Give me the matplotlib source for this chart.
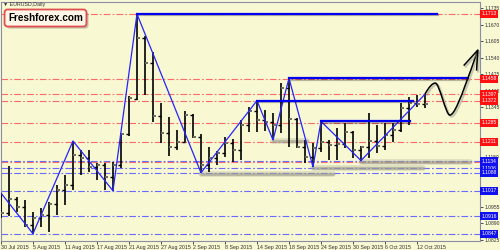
import matplotlib
matplotlib.use("Agg")
import matplotlib.pyplot as plt
import matplotlib.patheffects as pe
import matplotlib.transforms as mtransforms
from matplotlib.path import Path
from matplotlib.patches import PathPatch

plt.rcParams['font.family'] = ['Liberation Sans', 'DejaVu Sans']

# EURUSD Daily, 30 Jul - 13 Oct 2015
opens = [1.0996, 1.0929, 1.0985, 1.0953, 1.0882, 1.0910, 1.0922, 1.0965, 1.1020, 1.1040,
         1.1158, 1.1146, 1.1111, 1.1118, 1.1071, 1.1118, 1.1241, 1.1378, 1.1619, 1.1520,
         1.1311, 1.1244, 1.1189, 1.1209, 1.1315, 1.1229, 1.1118, 1.1146, 1.1166, 1.1205,
         1.1178, 1.1276, 1.1331, 1.1296, 1.1288, 1.1276, 1.1422, 1.1300, 1.1189, 1.1150,
         1.1185, 1.1209, 1.1197, 1.1200, 1.1248, 1.1178, 1.1189, 1.1213, 1.1193, 1.1237,
         1.1256, 1.1343, 1.1363, 1.1359]
highs = [1.1008, 1.1115, 1.0992, 1.0981, 1.0933, 1.0949, 1.0973, 1.1040, 1.1079, 1.1213,
         1.1178, 1.1178, 1.1126, 1.1126, 1.1130, 1.1244, 1.1390, 1.1713, 1.1626, 1.1563,
         1.1363, 1.1307, 1.1256, 1.1331, 1.1319, 1.1241, 1.1189, 1.1174, 1.1229, 1.1221,
         1.1296, 1.1347, 1.1372, 1.1335, 1.1323, 1.1441, 1.1460, 1.1305, 1.1217, 1.1205,
         1.1290, 1.1215, 1.1264, 1.1284, 1.1252, 1.1193, 1.1323, 1.1276, 1.1284, 1.1284,
         1.1363, 1.1386, 1.1394, 1.1397]
lows = [1.0910, 1.0918, 1.0933, 1.0874, 1.0848, 1.0874, 1.0855, 1.0922, 1.0961, 1.1020,
        1.1079, 1.1091, 1.1060, 1.1020, 1.1017, 1.1107, 1.1233, 1.1374, 1.1394, 1.1288,
        1.1205, 1.1154, 1.1178, 1.1209, 1.1225, 1.1088, 1.1091, 1.1118, 1.1150, 1.1130,
        1.1138, 1.1248, 1.1248, 1.1252, 1.1217, 1.1244, 1.1189, 1.1185, 1.1126, 1.1111,
        1.1170, 1.1138, 1.1138, 1.1185, 1.1146, 1.1136, 1.1146, 1.1166, 1.1178, 1.1209,
        1.1250, 1.1276, 1.1347, 1.1343]
closes = [1.0929, 1.0985, 1.0953, 1.0882, 1.0910, 1.0922, 1.0965, 1.1020, 1.1040, 1.1158,
          1.1146, 1.1111, 1.1118, 1.1071, 1.1118, 1.1241, 1.1382, 1.1619, 1.1520, 1.1311,
          1.1244, 1.1189, 1.1209, 1.1315, 1.1229, 1.1118, 1.1146, 1.1166, 1.1205, 1.1178,
          1.1276, 1.1331, 1.1296, 1.1288, 1.1276, 1.1422, 1.1300, 1.1189, 1.1150, 1.1185,
          1.1209, 1.1197, 1.1200, 1.1248, 1.1178, 1.1189, 1.1213, 1.1193, 1.1237, 1.1256,
          1.1343, 1.1363, 1.1359, 1.1360]

# ZigZag: indice de barra y si es maximo ('H') o minimo ('L')
zz_idx = [0, 4, 9, 14, 17, 25, 32, 34, 36, 39, 40, 45, 53]
zz_tipo = ['H', 'L', 'H', 'L', 'H', 'L', 'H', 'L', 'H', 'L', 'H', 'L', 'H']

# Resistencias (lineas azules gruesas): barra inicio, barra fin
res_ini = [17, 36, 32, 40]
res_fin = [54.5, 58.4, 51.5, 51.1]
# Soportes (sombras grises)
sop_ini = [34, 25, 39, 45]
sop_fin = [38.3, 41.5, 52.8, 58.6]

# Niveles horizontales
niveles_rojos = [1.1713, 1.1458, 1.1397, 1.1372, 1.1285, 1.1211]
nivel_rojo_extra = [1.1130]
niveles_azules = [1.1134, 1.1106, 1.1088, 1.1017, 1.0916, 1.0847]

yticks = [1.0825, 1.0890, 1.0955, 1.1020, 1.1085, 1.1150, 1.1215, 1.1280,
          1.1345, 1.1410, 1.1475, 1.1540, 1.1605, 1.1670, 1.1735]
# etiquetas tapadas por los recuadros de precio
yticks_ocultos = [1.1020, 1.1085, 1.1215, 1.1280]
fecha_idx = [0, 4, 8, 12, 16, 20, 24, 28, 32, 36, 40, 44, 48, 52]
fechas = ['30 Jul 2015', '5 Aug 2015', '11 Aug 2015', '17 Aug 2015', '21 Aug 2015',
          '27 Aug 2015', '2 Sep 2015', '8 Sep 2015', '14 Sep 2015', '18 Sep 2015',
          '24 Sep 2015', '30 Sep 2015', '6 Oct 2015', '12 Oct 2015']

# Flecha de pronostico (barra, precio)
flecha_x = [53.0, 53.5, 53.9, 54.3, 54.8, 55.6, 56.1, 56.6, 57.3, 59.6]
flecha_y = [1.1398, 1.1425, 1.1441, 1.1441, 1.1441, 1.1315, 1.1315, 1.1315, 1.1360, 1.1571]
punta_x = [57.9, 59.6, 59.45]
punta_y = [1.1512, 1.1571, 1.1493]

fondo = '#F8F8D3'
fig = plt.figure(figsize=(5, 2.5), dpi=100, facecolor=fondo)
ax = fig.add_axes([0.5 / 500, 9 / 250, 479.5 / 500, 239 / 250])
ax.set_facecolor(fondo)
ax.set_xlim(-0.06, 59.875)
ax.set_ylim(1.08193, 1.17602)

# Niveles punto-raya
estilo = (0, (6, 2, 1.5, 2))
for nv in niveles_rojos + nivel_rojo_extra:
    ax.axhline(nv, color='#FF6A6A', lw=0.8, ls=estilo, zorder=1)
for nv in niveles_azules:
    ax.axhline(nv, color='#6A6AFF', lw=0.8, ls=estilo, zorder=1)

# Sombras de soporte
sombra = mtransforms.offset_copy(ax.transData, fig=fig, y=-1.5, units='dots')
for i0, i1 in zip(sop_ini, sop_fin):
    ax.plot([i0, i1], [lows[i0], lows[i0]], color='#A8A898', lw=4, alpha=0.35,
            solid_capstyle='round', transform=sombra, zorder=2)
    ax.plot([i0, i1], [lows[i0], lows[i0]], color='#9A9A8C', lw=2, alpha=0.6,
            solid_capstyle='round', transform=sombra, zorder=2)

# Barras OHLC
t = 0.32
for i in range(len(opens)):
    ax.vlines(i, lows[i], highs[i], color='black', lw=1.2, zorder=3)
    ax.hlines(opens[i], i - t, i, color='black', lw=1.0, zorder=3)
    ax.hlines(closes[i], i, i + t, color='#6E6E60', lw=1.4, zorder=3)

# ZigZag
zz_y = [highs[i] if k == 'H' else lows[i] for i, k in zip(zz_idx, zz_tipo)]
ax.plot(zz_idx, zz_y, color='#2424FF', lw=0.9, zorder=4)

# Resistencias
for i0, i1 in zip(res_ini, res_fin):
    ax.plot([i0, i1], [highs[i0], highs[i0]], color='#0000F0', lw=1.6, zorder=4,
            path_effects=[pe.SimpleLineShadow(offset=(0.5, -1), alpha=0.25), pe.Normal()])

# Flecha (con sombra desplazada)
verts = list(zip(flecha_x, flecha_y))
codes = [Path.MOVETO] + [Path.CURVE4] * 9
camino = Path(verts, codes)
sombra_f = mtransforms.offset_copy(ax.transData, fig=fig, x=1.5, y=-1.5, units='dots')
ax.add_patch(PathPatch(camino, fill=False, edgecolor='#9A9A8C', lw=1.6, alpha=0.5,
                       transform=sombra_f, zorder=5))
ax.add_patch(PathPatch(camino, fill=False, edgecolor='black', lw=1.1, zorder=5))
ax.plot(punta_x, punta_y, color='#9A9A8C', lw=1.6, alpha=0.5, transform=sombra_f, zorder=5)
ax.plot(punta_x, punta_y, color='black', lw=1.1, zorder=5)

# Ejes
for s in ax.spines.values():
    s.set_color('#8C8CA8')
    s.set_linewidth(0.8)
ax.yaxis.tick_right()
ax.set_yticks(yticks)
ax.set_yticklabels(['' if v in yticks_ocultos else f'{v:.4f}' for v in yticks])
ax.tick_params(axis='y', labelsize=3.6, length=2, width=0.6, pad=1, colors='#303030')
ax.set_xticks(fecha_idx)
ax.set_xticklabels(fechas, ha='left')
ax.tick_params(axis='x', labelsize=3.8, length=2, width=0.6, pad=1, colors='#303030')
ax.grid(False)

# Etiquetas de precio en el eje
trans = mtransforms.blended_transform_factory(ax.transAxes, ax.transData)
for nv in niveles_rojos:
    ax.text(1.003, nv, f'{nv:.4f}', transform=trans, fontsize=3.6, color='white',
            va='center', ha='left', clip_on=False, zorder=6,
            bbox=dict(boxstyle='square,pad=0.3', fc='#FF1010', ec='none'))
for nv in niveles_azules:
    ax.text(1.003, nv, f'{nv:.4f}', transform=trans, fontsize=3.6, color='white',
            va='center', ha='left', clip_on=False, zorder=6,
            bbox=dict(boxstyle='square,pad=0.3', fc='#1010F0', ec='none'))

# Titulo y logo
fig.text(3 / 500, 1 - 4.5 / 250, '\u25bc EURUSD,Daily', fontsize=3.8, color='#303030',
         va='center', ha='left')
logo = fig.text(45.5 / 500, 1 - 18 / 250, 'Freshforex.com', fontsize=7.2,
                fontweight='bold', color='black', va='center', ha='center',
                bbox=dict(boxstyle='round,pad=0.35,rounding_size=0.3', fc='#FFF6E8',
                          ec='#E05050', lw=1.3))
logo.get_bbox_patch().set_path_effects([pe.SimplePatchShadow(offset=(1.5, -1.5), alpha=0.3),
                                        pe.Normal()])

fig.savefig('out.png', dpi=100, facecolor=fondo)
